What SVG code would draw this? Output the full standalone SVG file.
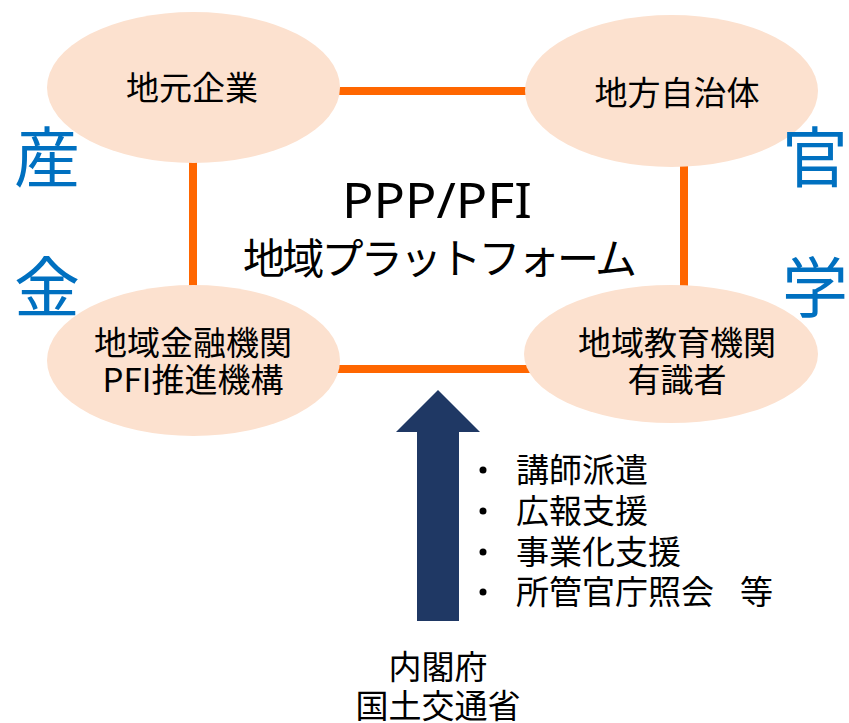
<svg xmlns="http://www.w3.org/2000/svg" width="849" height="723" viewBox="0 0 849 723">
<style>
.node ellipse{fill:#FCE1CF}
.t{font-family:"Noto Sans CJK JP","Noto Sans",sans-serif;font-size:33px;fill:#000;text-anchor:middle}
.side{font-family:"Noto Sans CJK JP",sans-serif;font-size:66px;fill:#0070C0;text-anchor:middle}
.big{font-family:"Noto Sans","Noto Sans CJK JP",sans-serif;fill:#000;text-anchor:middle}
.conn line{stroke:#FF6600;stroke-width:8}
</style>
<rect width="849" height="723" fill="#fff"/>
<g id="connectors" class="conn">
<line x1="336" y1="91" x2="530" y2="91"/>
<line x1="336" y1="369" x2="530" y2="369"/>
<line x1="193" y1="158" x2="193" y2="290"/>
<line x1="684" y1="160" x2="684" y2="290"/>
</g>
<g id="n1" class="node"><ellipse cx="193.5" cy="87.5" rx="146.5" ry="75.5"/><text class="t" x="192" y="100">地元企業</text></g>
<g id="n2" class="node"><ellipse cx="671.5" cy="91" rx="146.5" ry="76"/><text class="t" x="677" y="105">地方自治体</text></g>
<g id="n3" class="node"><ellipse cx="193.5" cy="360.5" rx="146.5" ry="75.5"/><text class="t" x="193" y="355">地域金融機関</text><text class="t" x="193" y="392">PFI推進機構</text></g>
<g id="n4" class="node"><ellipse cx="671" cy="354" rx="147" ry="69"/><text class="t" x="677" y="355">地域教育機関</text><text class="t" x="677" y="392">有識者</text></g>
<g id="center"><text class="big" x="437" y="218" font-size="49" textLength="190" lengthAdjust="spacingAndGlyphs">PPP/PFI</text><text class="big" x="440" y="274" font-size="42" textLength="394" lengthAdjust="spacing">地域プラットフォーム</text></g>
<g id="sides">
<text class="side" x="47" y="182">産</text>
<text class="side" x="47" y="312">金</text>
<text class="side" x="815" y="182">官</text>
<text class="side" x="815" y="312">学</text>
</g>
<g id="arrow"><polygon points="438,390 480,432 459,432 459,621 417,621 417,432 396,432" fill="#1F3864"/></g>
<g id="support">
<circle cx="483" cy="470" r="3.5" fill="#000"/>
<circle cx="483" cy="511" r="3.5" fill="#000"/>
<circle cx="483" cy="552" r="3.5" fill="#000"/>
<circle cx="483" cy="592" r="3.5" fill="#000"/>
<text class="t" style="text-anchor:start" x="516" y="482">講師派遣</text>
<text class="t" style="text-anchor:start" x="516" y="523">広報支援</text>
<text class="t" style="text-anchor:start" x="516" y="564">事業化支援</text>
<text class="t" style="text-anchor:start" x="516" y="604">所管官庁照会<tspan x="740">等</tspan></text>
</g>
<g id="agency"><text class="t" x="438" y="679">内閣府</text><text class="t" x="438" y="718">国土交通省</text></g>
</svg>
